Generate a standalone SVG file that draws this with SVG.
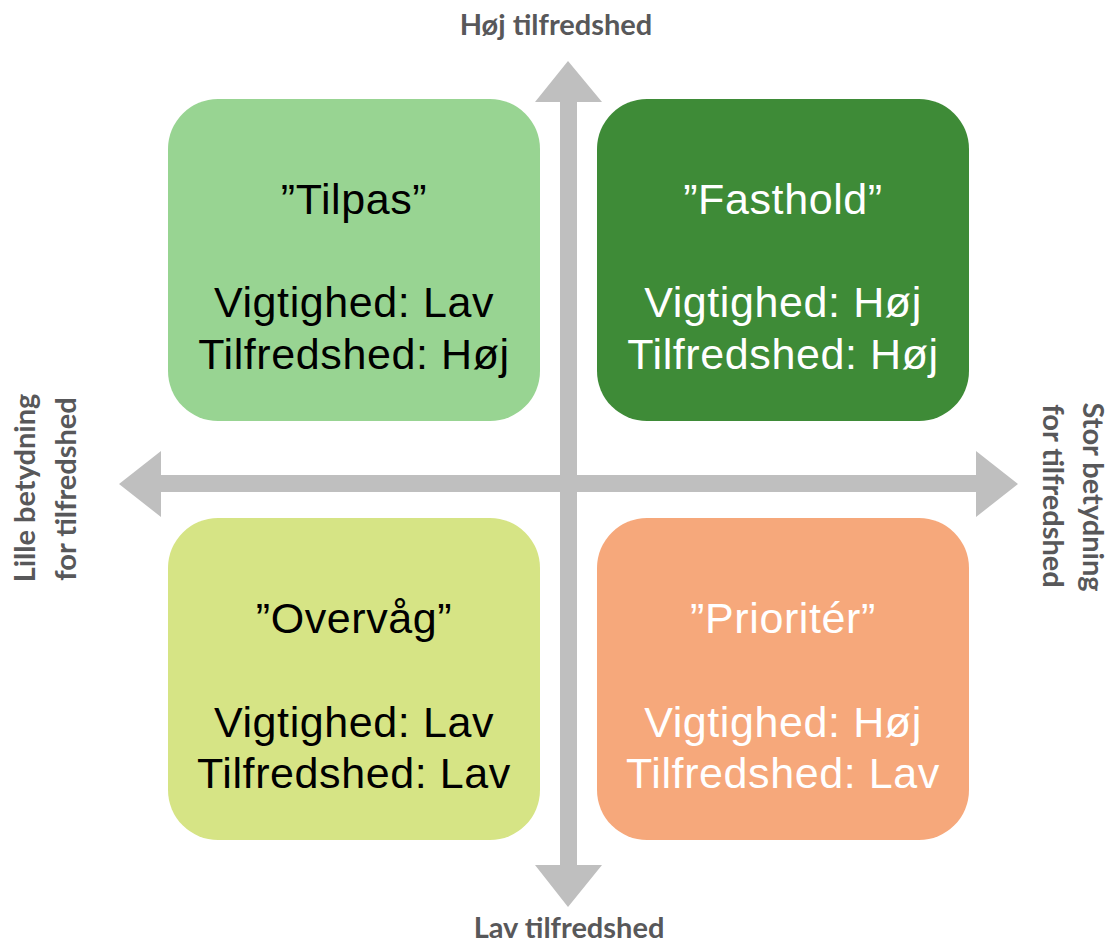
<svg xmlns="http://www.w3.org/2000/svg" width="1113" height="943" viewBox="0 0 1113 943">
<style>
.box-t{font-family:"Liberation Sans",Arial,sans-serif;font-size:43px;text-anchor:middle;letter-spacing:0.6px}
.dark{fill:#000000}
.light{fill:#FFFFFF}
.ax{font-family:Lato,"Open Sans",sans-serif;font-weight:bold;font-size:29px;fill:#58585A;text-anchor:middle}
.arrow{fill:#BFBFBF}
</style>
<rect width="1113" height="943" fill="#FFFFFF"/>
<g id="connectors">
<polygon class="arrow" points="568,61 602,102 577,102 577,865 602,865 568,907 535,865 560,865 560,102 535,102"/>
<polygon class="arrow" points="119,484 161,451 161,475 976,475 976,451 1018,484 976,517 976,492 161,492 161,517"/>
</g>
<g id="tilpas">
<rect x="168" y="99" width="372" height="322" rx="50" fill="#98D492"/>
<text class="box-t dark" x="354" y="214">”Tilpas”</text>
<text class="box-t dark" x="354" y="317">Vigtighed: Lav</text>
<text class="box-t dark" x="354" y="369">Tilfredshed: Høj</text>
</g>
<g id="fasthold">
<rect x="597" y="99" width="372" height="322" rx="50" fill="#3E8B37"/>
<text class="box-t light" x="783" y="214">”Fasthold”</text>
<text class="box-t light" x="783" y="317">Vigtighed: Høj</text>
<text class="box-t light" x="783" y="369">Tilfredshed: Høj</text>
</g>
<g id="overvaag">
<rect x="168" y="518" width="372" height="322" rx="50" fill="#D6E485"/>
<text class="box-t dark" x="354" y="633">”Overvåg”</text>
<text class="box-t dark" x="354" y="737">Vigtighed: Lav</text>
<text class="box-t dark" x="354" y="788">Tilfredshed: Lav</text>
</g>
<g id="prioriter">
<rect x="597" y="518" width="372" height="322" rx="50" fill="#F6A87B"/>
<text class="box-t light" x="783" y="633">”Prioritér”</text>
<text class="box-t light" x="783" y="737">Vigtighed: Høj</text>
<text class="box-t light" x="783" y="788">Tilfredshed: Lav</text>
</g>
<g id="label-top">
<text class="ax" x="556" y="35">Høj tilfredshed</text>
</g>
<g id="label-bottom">
<text class="ax" x="569" y="938">Lav tilfredshed</text>
</g>
<g id="label-left">
<text class="ax" transform="translate(35,488) rotate(-90)" x="0" y="0">Lille betydning</text>
<text class="ax" transform="translate(76,489) rotate(-90)" x="0" y="0">for tilfredshed</text>
</g>
<g id="label-right">
<text class="ax" transform="translate(1083,497) rotate(90)" x="0" y="0">Stor betydning</text>
<text class="ax" transform="translate(1043,496) rotate(90)" x="0" y="0">for tilfredshed</text>
</g>
</svg>
